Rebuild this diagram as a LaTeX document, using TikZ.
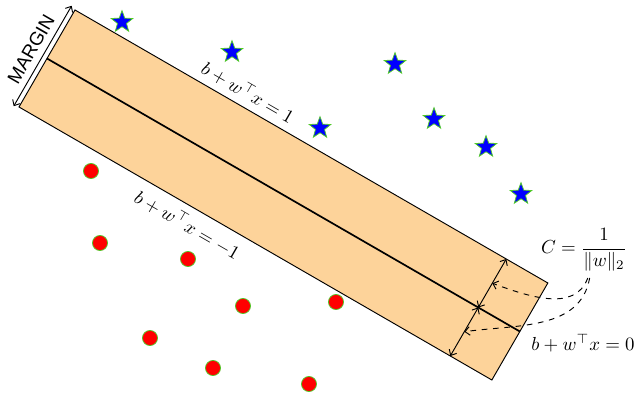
\documentclass[tikz,border=0pt]{standalone}
\usepackage{amsmath,amssymb}
\usepackage{fontspec}
\newfontfamily\marginfont{Liberation Sans}
\usepackage{tikz}
\usetikzlibrary{calc,positioning,arrows.meta,shapes.geometric}
\definecolor{bandfill}{RGB}{253,211,154}
\definecolor{ptedge}{RGB}{80,200,40}
\tikzset{
  band/.style={draw, fill=bandfill, line width=0.5pt},
  sepline/.style={line width=0.9pt},
  gap/.style={{Straight Barb[length=2.5pt,width=4.5pt]}-{Straight Barb[length=2.5pt,width=4.5pt]}, line width=0.5pt},
  hint/.style={-{Straight Barb[length=2.5pt,width=4.5pt]}, dashed, line width=0.5pt},
  edgelabel/.style={sloped, transform shape},
  posstar/.style={star, star points=5, star point ratio=2.4, draw=ptedge, fill=blue, line width=0.4pt, inner sep=0pt, minimum size=12pt},
  negdot/.style={circle, draw=ptedge, fill=red, line width=0.4pt, inner sep=0pt, minimum size=8pt}
}

\begin{document}
\begin{tikzpicture}[x=0.53pt,y=0.53pt]
  \useasboundingbox (0,0) rectangle (636,393);
  % margin band, rotated frame
  \begin{scope}[shift={(47,334.5)}, rotate=-30]
    \coordinate (bl) at (0,-56);
    \coordinate (br) at (546,-56);
    \coordinate (tr) at (546,56);
    \coordinate (tl) at (0,56);
    \coordinate (ml) at (0,0);
    \coordinate (mr) at (546,0);
    \draw[band] (bl) -- (br) -- (tr) -- (tl) -- cycle;
    \draw[sepline] (ml) -- (mr);
    \path (tl) -- node[pos=0.35, edgelabel, above] {$b+w^\top x=1$} (tr);
    \path (bl) -- node[pos=0.375, edgelabel, below, yshift=-1pt] {$b+w^\top x=-1$} (br);
    \coordinate (mbot) at (-5,-58);
    \coordinate (mtop) at (-5,58);
    \draw[gap] (mbot) -- node[edgelabel, above] {\marginfont MARGIN} (mtop);
    \coordinate (gtop) at (498,56);
    \coordinate (gmid) at (498,0);
    \coordinate (gbot) at (498,-56);
    \draw[gap] (gtop) -- coordinate (h1) (gmid);
    \draw[gap] (gmid) -- coordinate (h2) (gbot);
  \end{scope}
  % labels
  \node (cform) at (584,143) {$C=\dfrac{1}{\|w\|_2}$};
  \node (hyp) at (583,50) {$b+w^\top x=0$};
  \draw[hint] ([xshift=2pt]cform.south) to[out=-110,in=-20] (h1);
  \draw[hint] ([xshift=3pt]cform.south) to[out=-100,in=8] (h2);
  % positive points
  \node[posstar] (s1) at (122,371) {};
  \node[posstar] (s2) at (232,341) {};
  \node[posstar] (s3) at (395,329) {};
  \node[posstar] (s4) at (320,265) {};
  \node[posstar] (s5) at (434,274) {};
  \node[posstar] (s6) at (486,246) {};
  \node[posstar] (s7) at (521,199) {};
  % negative points
  \node[negdot] (r1) at (91,222) {};
  \node[negdot] (r2) at (100,150) {};
  \node[negdot] (r3) at (188,134) {};
  \node[negdot] (r4) at (243,87) {};
  \node[negdot] (r5) at (336,91) {};
  \node[negdot] (r6) at (150,55) {};
  \node[negdot] (r7) at (213,25) {};
  \node[negdot] (r8) at (309,9) {};
\end{tikzpicture}
\end{document}
